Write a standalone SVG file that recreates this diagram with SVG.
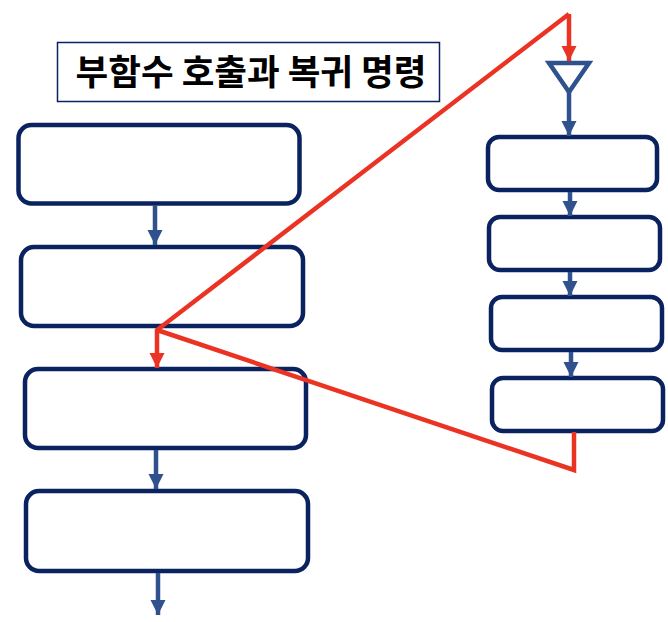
<svg xmlns="http://www.w3.org/2000/svg" width="668" height="622" viewBox="0 0 668 622">
<style>
.box{fill:#fff;stroke:#0a2260;stroke-width:4.5}
.blue{stroke:#2f528f;stroke-width:4.5;fill:none}
.red{stroke:#ea3323;stroke-width:4.5;fill:none;stroke-linejoin:miter}
.title{font-family:"Noto Sans CJK KR","Noto Sans",sans-serif;font-size:35.5px;font-weight:bold;fill:#000}
</style>
<defs>
<marker id="ab" markerUnits="userSpaceOnUse" markerWidth="16" markerHeight="16" refX="15" refY="8" orient="auto" viewBox="0 0 16 16"><path d="M0,0.5 L15,8 L0,15.5 Z" fill="#2f528f"/></marker>
<marker id="ar" markerUnits="userSpaceOnUse" markerWidth="16" markerHeight="16" refX="15" refY="8" orient="auto" viewBox="0 0 16 16"><path d="M0,0.5 L15,8 L0,15.5 Z" fill="#ea3323"/></marker>
</defs>
<g id="title"><rect x="57.5" y="42.5" width="382" height="59" fill="#fff" stroke="#0a2260" stroke-width="1.5"/><text class="title" x="251" y="85" text-anchor="middle">부함수 호출과 복귀 명령</text></g>
<g id="L1"><rect class="box" x="18.5" y="125" width="281" height="78.5" rx="13"/></g>
<g id="L2"><rect class="box" x="21" y="247" width="282" height="79" rx="13"/></g>
<g id="L3"><rect class="box" x="25" y="369" width="281" height="79" rx="13"/></g>
<g id="L4"><rect class="box" x="26" y="491" width="282" height="80" rx="13"/></g>
<g id="T"><path d="M549,63 L589,63 L569,92 Z" fill="#fff" stroke="#2f528f" stroke-width="4.5" stroke-linejoin="miter"/></g>
<g id="R1"><rect class="box" x="488" y="137" width="169" height="53" rx="11"/></g>
<g id="R2"><rect class="box" x="489" y="217" width="171" height="53" rx="11"/></g>
<g id="R3"><rect class="box" x="491" y="297" width="171" height="53" rx="11"/></g>
<g id="R4"><rect class="box" x="492" y="378" width="171" height="53" rx="11"/></g>
<g id="connectors">
<line class="blue" x1="155" y1="205" x2="155" y2="245" marker-end="url(#ab)"/>
<line class="blue" x1="156" y1="450" x2="156" y2="489" marker-end="url(#ab)"/>
<line class="blue" x1="158" y1="573" x2="158" y2="615" marker-end="url(#ab)"/>
<line class="blue" x1="569" y1="92" x2="569" y2="136" marker-end="url(#ab)"/>
<line class="blue" x1="570" y1="192" x2="570" y2="216" marker-end="url(#ab)"/>
<line class="blue" x1="570" y1="272" x2="570" y2="296" marker-end="url(#ab)"/>
<line class="blue" x1="571" y1="352" x2="571" y2="377" marker-end="url(#ab)"/>
<path class="red" d="M569,14 L569,61" marker-end="url(#ar)"/>
<path class="red" d="M569,14 L157,330 L157,368" marker-end="url(#ar)"/>
<path class="red" d="M157,330 L574,470 L574,432"/>
</g>
</svg>
